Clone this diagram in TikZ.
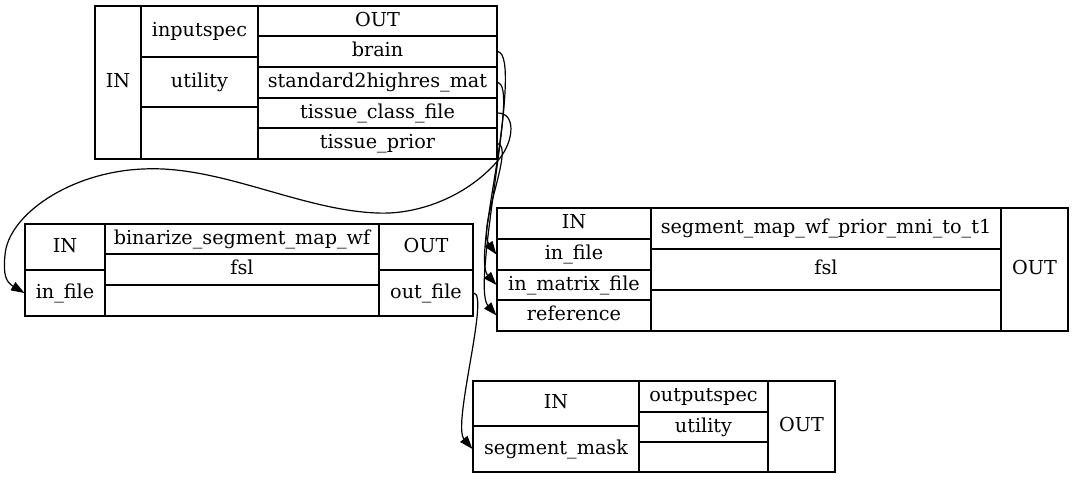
\documentclass[tikz,border=0pt]{standalone}
\usepackage{fontspec}
\setmainfont{DejaVu Serif}
\usetikzlibrary{arrows.meta}

\begin{document}
\begin{tikzpicture}[x=0.75pt, y=-0.75pt, >={Triangle[length=10pt, width=7pt]},
  every node/.style={font=\fontsize{14.4}{16}\selectfont},
  cell/.style={draw, line width=0.85pt, inner sep=0pt, text height=11pt, text depth=2.8pt},
  sz/.style 2 args={minimum width=#1*0.75pt, minimum height=#2*0.75pt},
  edge/.style={->, line width=0.9pt}]
  \useasboundingbox (0,0) rectangle (1073,479);

  % --- inputspec ---
  \node[cell, sz={46}{153}] (is_in) at (118,82.5) {IN};
  \node[cell, sz={117}{51}] (is_name) at (199.5,31.5) {inputspec};
  \node[cell, sz={117}{50}] (is_util) at (199.5,82) {utility};
  \node[cell, sz={117}{52}] (is_blank) at (199.5,133) {};
  \node[cell, sz={239}{30}] (is_out) at (377.5,21) {OUT};
  \node[cell, sz={239}{31}] (brain) at (377.5,51.5) {brain};
  \node[cell, sz={239}{31}] (std2hr) at (377.5,82.5) {standard2highres\_mat};
  \node[cell, sz={239}{30}] (tcf) at (377.5,113) {tissue\_class\_file};
  \node[cell, sz={239}{31}] (tprior) at (377.5,143.5) {tissue\_prior};

  % --- binarize_segment_map_wf ---
  \node[cell, sz={80}{46}] (bin_in) at (65,247) {IN};
  \node[cell, sz={80}{46}] (bin_infile) at (65,293) {in\_file};
  \node[cell, sz={274}{30}] (bin_name) at (242,239) {binarize\_segment\_map\_wf};
  \node[cell, sz={274}{31}] (bin_fsl) at (242,269.5) {fsl};
  \node[cell, sz={274}{31}] (bin_blank) at (242,300.5) {};
  \node[cell, sz={94}{46}] (bin_out) at (426,247) {OUT};
  \node[cell, sz={94}{46}] (bin_outfile) at (426,293) {out\_file};

  % --- segment_map_wf_prior_mni_to_t1 ---
  \node[cell, sz={154}{31}] (seg_in) at (574,223.5) {IN};
  \node[cell, sz={154}{31}] (seg_infile) at (574,254.5) {in\_file};
  \node[cell, sz={154}{30}] (seg_matrix) at (574,285) {in\_matrix\_file};
  \node[cell, sz={154}{31}] (seg_ref) at (574,315.5) {reference};
  \node[cell, sz={350}{41}] (seg_name) at (826,228.5) {segment\_map\_wf\_prior\_mni\_to\_t1};
  \node[cell, sz={350}{41}] (seg_fsl) at (826,269.5) {fsl};
  \node[cell, sz={350}{41}] (seg_blank) at (826,310.5) {};
  \node[cell, sz={67}{123}] (seg_out) at (1034.5,269.5) {OUT};

  % --- outputspec ---
  \node[cell, sz={166}{45}] (os_in) at (556,403.5) {IN};
  \node[cell, sz={166}{46}] (segmask) at (556,449) {segment\_mask};
  \node[cell, sz={129}{31}] (os_name) at (703.5,396.5) {outputspec};
  \node[cell, sz={129}{30}] (os_util) at (703.5,427) {utility};
  \node[cell, sz={129}{30}] (os_blank) at (703.5,457) {};
  \node[cell, sz={67}{91}] (os_out) at (801.5,426.5) {OUT};

  % Connections
  \draw[edge] (brain.east) .. controls (525,55) and (470,285) .. (seg_ref.west);
  \draw[edge] (std2hr.east) .. controls (520,86) and (472,258) .. (seg_matrix.west);
  \draw[edge] (tprior.east) .. controls (515,146) and (477,228) .. (seg_infile.west);
  \draw[edge] (tcf.east) .. controls (516,113) and (514,140) .. (500,158)
    .. controls (470,195) and (420,215) .. (377,213)
    .. controls (300,210) and (220,165) .. (143,169)
    .. controls (70,172) and (8,215) .. (5,255)
    .. controls (3,275) and (6,282) .. (bin_infile.west);
  \draw[edge] (bin_outfile.east) .. controls (490,293) and (452,425) .. (segmask.west);
\end{tikzpicture}
\end{document}
